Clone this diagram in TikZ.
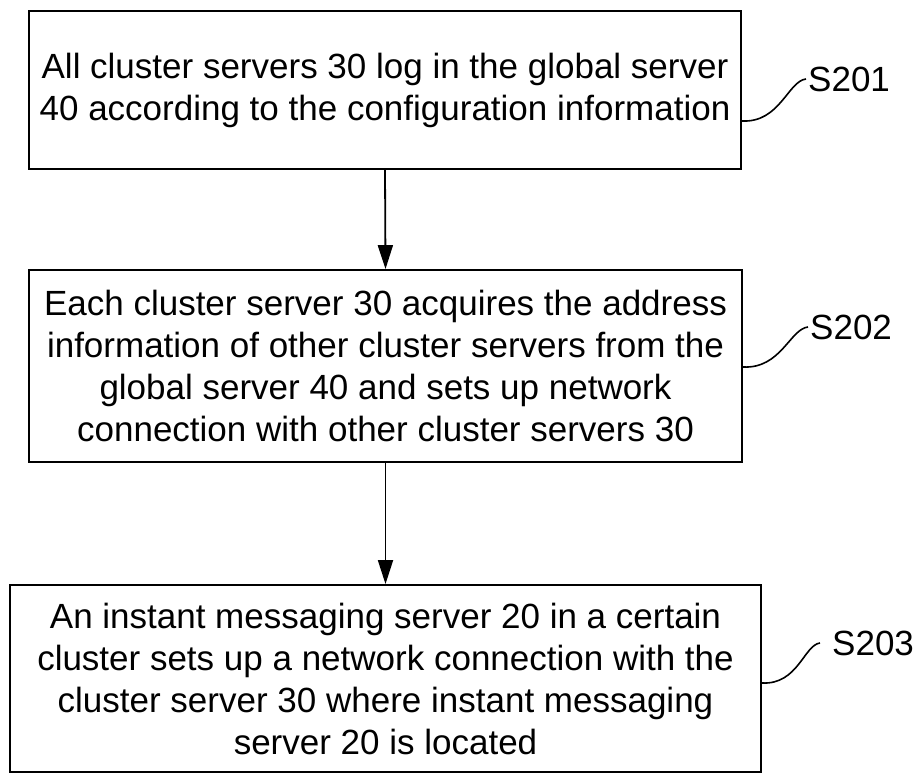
\documentclass[tikz,border=0pt]{standalone}
\usepackage{fontspec}
\setmainfont{Liberation Sans}
\usetikzlibrary{arrows.meta}
\begin{document}
\begin{tikzpicture}[x=1pt,y=1pt,
  stepbox/.style={draw=black, line width=1.8pt, rectangle, align=center, inner sep=0pt,
    font=\fontsize{35}{42}\selectfont},
  lab/.style={inner sep=2pt, font=\fontsize{35}{42}\selectfont},
  flow/.style={line width=1.8pt, -{Triangle[length=24pt,width=15pt]}},
  tie/.style={line width=1.6pt}]
\useasboundingbox (0,0) rectangle (919,776);
\node[stepbox, minimum width=712pt, minimum height=158pt] (b1) at (385,686)
  {All cluster servers 30 log in the global server\\40 according to the configuration information};
\node[stepbox, minimum width=713pt, minimum height=192pt] (b2) at (385.5,410)
  {Each cluster server 30 acquires the address\\information of other cluster servers from the\\global server 40 and sets up network\\connection with other cluster servers 30};
\node[stepbox, minimum width=751pt, minimum height=187pt] (b3) at (385.5,97.5)
  {An instant messaging server 20 in a certain\\cluster sets up a network connection with the\\cluster server 30 where instant messaging\\server 20 is located};
\draw[flow] (b1.south) -- (b2.north);
\draw[flow] (b2.south) -- (b3.north);
\node[lab, anchor=west] (l1) at (806,697) {S201};
\node[lab, anchor=west] (l2) at (808,449) {S202};
\node[lab, anchor=west] (l3) at (830,133) {S203};
\coordinate (c1) at (b1.east |- 0,655);
\coordinate (c2) at (b2.east |- 0,409);
\coordinate (c3) at (b3.east |- 0,93);
\draw[tie] (c1) .. controls +(38,-2) and +(-18,-2) .. (l1.west);
\draw[tie] (c2) .. controls +(38,-2) and +(-18,-2) .. (l2.west);
\draw[tie] (c3) .. controls +(36,-2) and +(-16,-2) .. ([xshift=-10pt]l3.west);
\end{tikzpicture}
\end{document}
